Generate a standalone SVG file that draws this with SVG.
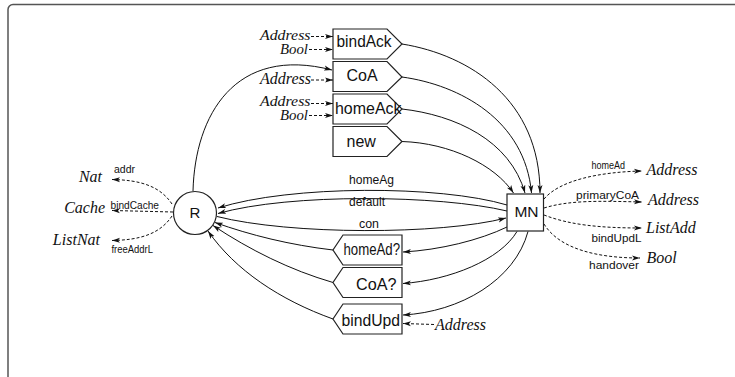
<svg xmlns="http://www.w3.org/2000/svg" width="735" height="377" viewBox="0 0 735 377">
<style>
.box{fill:#fff;stroke:#222;stroke-width:1.2}
.e{fill:none;stroke:#111;stroke-width:1}
.d{fill:none;stroke:#111;stroke-width:1;stroke-dasharray:3,2}
.t{font-family:"Liberation Sans",Arial,sans-serif;font-size:16px;fill:#111}
.s{font-family:"Liberation Sans",Arial,sans-serif;font-size:12px;fill:#111}
.x{font-family:"Liberation Sans",Arial,sans-serif;font-size:10.5px;fill:#111}
.i{font-family:"Liberation Serif","Times New Roman",serif;font-style:italic;font-size:16px;fill:#111}
.j{font-family:"Liberation Serif","Times New Roman",serif;font-style:italic;font-size:14px;fill:#111}
</style>
<defs>
<marker id="ah" viewBox="0 0 8 6" refX="8" refY="3" markerWidth="8" markerHeight="6" markerUnits="userSpaceOnUse" orient="auto"><path d="M0,0.5 L8,3 L0,5.5 L2,3 z" fill="#111"/></marker>
</defs>
<rect x="8" y="4.5" width="740" height="390" rx="5" fill="none" stroke="#555" stroke-width="1.5"/>

<g id="connectors">
<path class="e" d="M402,44 C470,55 540,100 540,193" marker-end="url(#ah)"/>
<path class="e" d="M402,77 C460,85 525,120 531.5,193" marker-end="url(#ah)"/>
<path class="e" d="M402,109 C455,115 510,140 525,193" marker-end="url(#ah)"/>
<path class="e" d="M402,141.5 C450,143 495,165 513.5,193" marker-end="url(#ah)"/>
<path class="e" d="M193,191 C195,115 235,45 332,70" marker-end="url(#ah)"/>
<path class="e" d="M507,205 C440,185 290,185 218,208" marker-end="url(#ah)"/>
<path class="e" d="M507,211 C440,195 290,193 218,213.5" marker-end="url(#ah)"/>
<path class="e" d="M217,216.5 C290,235 440,235 506,218" marker-end="url(#ah)"/>
<path class="e" d="M507,227 C480,240 440,250 403,252" marker-end="url(#ah)"/>
<path class="e" d="M517,231.5 C500,260 450,280 403,283.5" marker-end="url(#ah)"/>
<path class="e" d="M528,231.5 C515,280 460,312 403,315" marker-end="url(#ah)"/>
<path class="e" d="M333,250 C290,245 250,235 215,222.5" marker-end="url(#ah)"/>
<path class="e" d="M333,282.5 C290,270 250,250 213,225.5" marker-end="url(#ah)"/>
<path class="e" d="M333,319 C280,300 235,270 208,231" marker-end="url(#ah)"/>
<path class="d" d="M311,36.5 L333,36.5" marker-end="url(#ah)"/>
<path class="d" d="M309,49.5 L333,49.5" marker-end="url(#ah)"/>
<path class="d" d="M311,80 L333,80" marker-end="url(#ah)"/>
<path class="d" d="M311,103.5 L333,103.5" marker-end="url(#ah)"/>
<path class="d" d="M309,115.5 L333,115.5" marker-end="url(#ah)"/>
<path class="d" d="M434,324.5 L403,323.5" marker-end="url(#ah)"/>
<path class="d" d="M172,204 C160,186 140,180 112,179.5" marker-end="url(#ah)"/>
<path class="d" d="M173,212 L112,210.5" marker-end="url(#ah)"/>
<path class="d" d="M172,216 C160,234 140,240 112,240.5" marker-end="url(#ah)"/>
<path class="d" d="M544,199 C560,180 600,172 642,171" marker-end="url(#ah)"/>
<path class="d" d="M544,208 C570,200 600,201 642,202" marker-end="url(#ah)"/>
<path class="d" d="M544,215 C570,225 600,228 642,228" marker-end="url(#ah)"/>
<path class="d" d="M544,224 C560,250 600,258 640,258" marker-end="url(#ah)"/>
<text class="s" x="349" y="183.5" textLength="45" lengthAdjust="spacingAndGlyphs">homeAg</text>
<text class="s" x="349" y="205.5" textLength="36" lengthAdjust="spacingAndGlyphs">default</text>
<text class="s" x="359" y="228" textLength="20" lengthAdjust="spacingAndGlyphs">con</text>
<text class="x" x="114" y="172.5" textLength="21" lengthAdjust="spacingAndGlyphs">addr</text>
<text class="x" x="110.5" y="208.5" textLength="48.5" lengthAdjust="spacingAndGlyphs">bindCache</text>
<text class="x" x="111.5" y="253" textLength="41.5" lengthAdjust="spacingAndGlyphs">freeAddrL</text>
<text class="x" x="591.5" y="168.5" textLength="33.5" lengthAdjust="spacingAndGlyphs">homeAd</text>
<text class="x" x="576" y="198.5" textLength="63" lengthAdjust="spacingAndGlyphs">primaryCoA</text>
<text class="x" x="591.5" y="241.5" textLength="50" lengthAdjust="spacingAndGlyphs">bindUpdL</text>
<text class="x" x="589" y="269" textLength="50" lengthAdjust="spacingAndGlyphs">handover</text>
</g>

<g id="bindAck"><path class="box" d="M333,29 H387 L402,44 L387,59 H333 Z"/><text class="t" x="336.5" y="46.5" textLength="55" lengthAdjust="spacingAndGlyphs">bindAck</text></g>
<g id="CoA"><path class="box" d="M333,61.5 H387 L402,77 L387,91.5 H333 Z"/><text class="t" x="346.5" y="81">CoA</text></g>
<g id="homeAck"><path class="box" d="M333,94 H387 L402,109 L387,124 H333 Z"/><text class="t" x="335" y="114" textLength="66.5" lengthAdjust="spacingAndGlyphs">homeAck</text></g>
<g id="new"><path class="box" d="M333,126.5 H387 L402,141.5 L387,156.5 H333 Z"/><text class="t" x="346.5" y="146.5">new</text></g>

<g id="homeAdQ"><path class="box" d="M343,235 H402 V265 H343 L333,250 Z"/><text class="t" x="343.5" y="254.5" textLength="56.5" lengthAdjust="spacingAndGlyphs">homeAd?</text></g>
<g id="CoAQ"><path class="box" d="M343,267.5 H402 V297.5 H343 L333,282.5 Z"/><text class="t" x="356" y="290" textLength="40.5" lengthAdjust="spacingAndGlyphs">CoA?</text></g>
<g id="bindUpd"><path class="box" d="M343,304 H402 V334 H343 L333,319 Z"/><text class="t" x="341.5" y="325.5" textLength="58.5" lengthAdjust="spacingAndGlyphs">bindUpd</text></g>

<g id="R"><circle class="box" cx="195" cy="213" r="21.5"/><text class="t" x="195" y="217.5" text-anchor="middle" style="font-size:15px">R</text></g>
<g id="MN"><rect class="box" x="507" y="194" width="36.5" height="37"/><text class="t" x="526.5" y="217" text-anchor="middle" style="font-size:15.5px">MN</text></g>

<g id="types">
<text class="j" x="310.5" y="40" text-anchor="end" textLength="50.5" lengthAdjust="spacingAndGlyphs">Address</text>
<text class="j" x="308" y="53.5" text-anchor="end" textLength="28" lengthAdjust="spacingAndGlyphs">Bool</text>
<text class="i" x="311" y="83.5" text-anchor="end">Address</text>
<text class="j" x="310.5" y="106" text-anchor="end" textLength="50.5" lengthAdjust="spacingAndGlyphs">Address</text>
<text class="j" x="308" y="120" text-anchor="end" textLength="28" lengthAdjust="spacingAndGlyphs">Bool</text>
<text class="i" x="435" y="330">Address</text>
<text class="i" x="102" y="182" text-anchor="end">Nat</text>
<text class="i" x="105" y="213" text-anchor="end">Cache</text>
<text class="i" x="100" y="245" text-anchor="end">ListNat</text>
<text class="i" x="646.5" y="175">Address</text>
<text class="i" x="648" y="205">Address</text>
<text class="i" x="646" y="232.5">ListAdd</text>
<text class="i" x="646.5" y="262.5">Bool</text>
</g>
</svg>
